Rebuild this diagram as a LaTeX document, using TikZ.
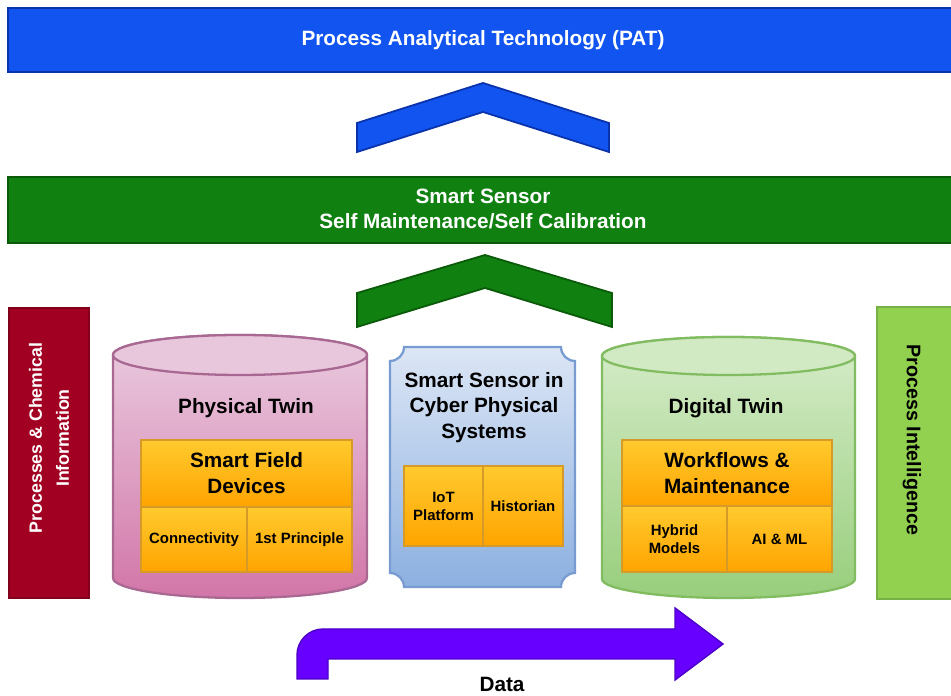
\documentclass[tikz,border=0pt]{standalone}
\usepackage{fontspec}
\setmainfont{Liberation Sans}
\definecolor{patblue}{RGB}{18,84,240}
\definecolor{patline}{RGB}{10,50,170}
\definecolor{ssgreen}{RGB}{16,128,16}
\definecolor{ssline}{RGB}{10,90,10}
\definecolor{procred}{RGB}{162,0,34}
\definecolor{intgreen}{RGB}{146,208,80}
\definecolor{intline}{RGB}{118,176,70}
\definecolor{pinktop}{RGB}{234,204,224}
\definecolor{pinkbot}{RGB}{210,118,168}
\definecolor{pinkcap}{RGB}{232,198,220}
\definecolor{pinkline}{RGB}{168,104,146}
\definecolor{greentop}{RGB}{214,236,202}
\definecolor{greenbot}{RGB}{152,206,124}
\definecolor{greencap}{RGB}{210,234,196}
\definecolor{greenline}{RGB}{130,188,96}
\definecolor{bluetop}{RGB}{220,230,245}
\definecolor{bluebot}{RGB}{140,176,224}
\definecolor{blueline}{RGB}{120,156,210}
\definecolor{celltop}{RGB}{255,202,46}
\definecolor{cellbot}{RGB}{255,164,0}
\definecolor{cellline}{RGB}{214,154,40}
\definecolor{datav}{RGB}{104,0,255}
\definecolor{dataline}{RGB}{76,0,200}

\begin{document}
\begin{tikzpicture}[x=0.02cm,y=0.02cm,
    bigtxt/.style={font=\fontsize{11.8}{14.7}\selectfont\bfseries, align=center},
    smalltxt/.style={font=\fontsize{8.5}{10.2}\selectfont\bfseries, align=center},
    cell/.style={draw=cellline, top color=celltop, bottom color=cellbot, line width=0.6pt}]
    \useasboundingbox (0,0) rectangle (951,696);
    \clip (0,0) rectangle (951,696);
    \fill[white] (0,0) rectangle (951,696);

    \draw[fill=patblue, draw=patline, line width=0.8pt] (8,624) rectangle (960,688);
    \node[bigtxt, text=white] (pat) at (483,656) {Process Analytical Technology (PAT)};
    \draw[fill=patblue, draw=patline, line width=1pt] (357,573) -- (483,613) -- (609,573) -- (609,544) -- (483,584) -- (357,544) -- cycle;

    \draw[fill=ssgreen, draw=ssline, line width=0.8pt] (8,453) rectangle (960,519);
    \node[bigtxt, text=white] (sss) at (483,487) {Smart Sensor\\Self Maintenance/Self Calibration};
    \draw[fill=ssgreen, draw=ssline, line width=1pt] (357,403) -- (485,441) -- (612,403) -- (612,369) -- (485,408) -- (357,369) -- cycle;

    \draw[fill=procred, draw=procred!80!black, line width=0.6pt] (9,98) rectangle (89,388);
    \node[rotate=90, text=white, align=center, font=\fontsize{10.1}{15.3}\selectfont\bfseries] (pci) at (49,258) {Processes \& Chemical\\Information};
    \draw[fill=intgreen, draw=intline, line width=1.2pt] (877,97) rectangle (960,389);
    \node[rotate=-90, bigtxt, font=\fontsize{11.2}{14}\selectfont\bfseries] (pint) at (912,256) {Process Intelligence};

    \draw[draw=pinkline, top color=pinktop, bottom color=pinkbot, line width=1.3pt] (113,341) -- (113,118) arc[start angle=180, end angle=360, x radius=127, y radius=20] -- (367,341) arc[start angle=0, end angle=180, x radius=127, y radius=20] -- cycle;
    \draw[draw=pinkline, fill=pinkcap, line width=1.3pt] (240,341) ellipse[x radius=127, y radius=20];
    \node[bigtxt] (phys) at (246,288) {Physical Twin};
    \draw[cell] (141,189) rectangle (352,256);
    \draw[cell] (141,124) rectangle (247,189);
    \draw[cell] (247,124) rectangle (352,189);
    \node[bigtxt] (sfd) at (246.5,222.5) {Smart Field\\Devices};
    \node[smalltxt] (conn) at (194,156.5) {Connectivity};
    \node[smalltxt] (fprin) at (299.5,156.5) {1st Principle};

    \draw[draw=blueline, top color=bluetop, bottom color=bluebot, line width=1.3pt] (404,349) -- (561,349) arc[start angle=180, end angle=270, radius=14] -- (575,123) arc[start angle=90, end angle=180, radius=14] -- (404,109) arc[start angle=0, end angle=90, radius=14] -- (390,335) arc[start angle=270, end angle=360, radius=14] -- cycle;
    \node[bigtxt] (cps) at (484,288.5) {Smart Sensor in\\Cyber Physical\\Systems};
    \draw[cell] (404,150) rectangle (483,230);
    \draw[cell] (483,150) rectangle (563,230);
    \node[smalltxt] (iot) at (443.5,190) {IoT\\Platform};
    \node[smalltxt] (hist) at (523,190) {Historian};

    \draw[draw=greenline, top color=greentop, bottom color=greenbot, line width=1.3pt] (602,340) -- (602,117) arc[start angle=180, end angle=360, x radius=126.5, y radius=19] -- (855,340) arc[start angle=0, end angle=180, x radius=126.5, y radius=19] -- cycle;
    \draw[draw=greenline, fill=greencap, line width=1.3pt] (728.5,340) ellipse[x radius=126.5, y radius=19];
    \node[bigtxt] (digi) at (726,288) {Digital Twin};
    \draw[cell] (622,190) rectangle (832,256);
    \draw[cell] (622,124) rectangle (727,190);
    \draw[cell] (727,124) rectangle (832,190);
    \node[bigtxt] (wfm) at (727,223) {Workflows \&\\Maintenance};
    \node[smalltxt] (hyb) at (674.5,157) {Hybrid\\Models};
    \node[smalltxt] (aiml) at (779.5,157) {AI \& ML};

    \draw[fill=datav, draw=dataline, line width=0.8pt] (297,17) -- (297,41) arc[start angle=180, end angle=90, radius=26] -- (675,67) -- (675,88) -- (723,52) -- (675,16) -- (675,37) -- (328,37) -- (328,17) -- cycle;
    \node[bigtxt] (data) at (502,12) {Data};
\end{tikzpicture}
\end{document}
